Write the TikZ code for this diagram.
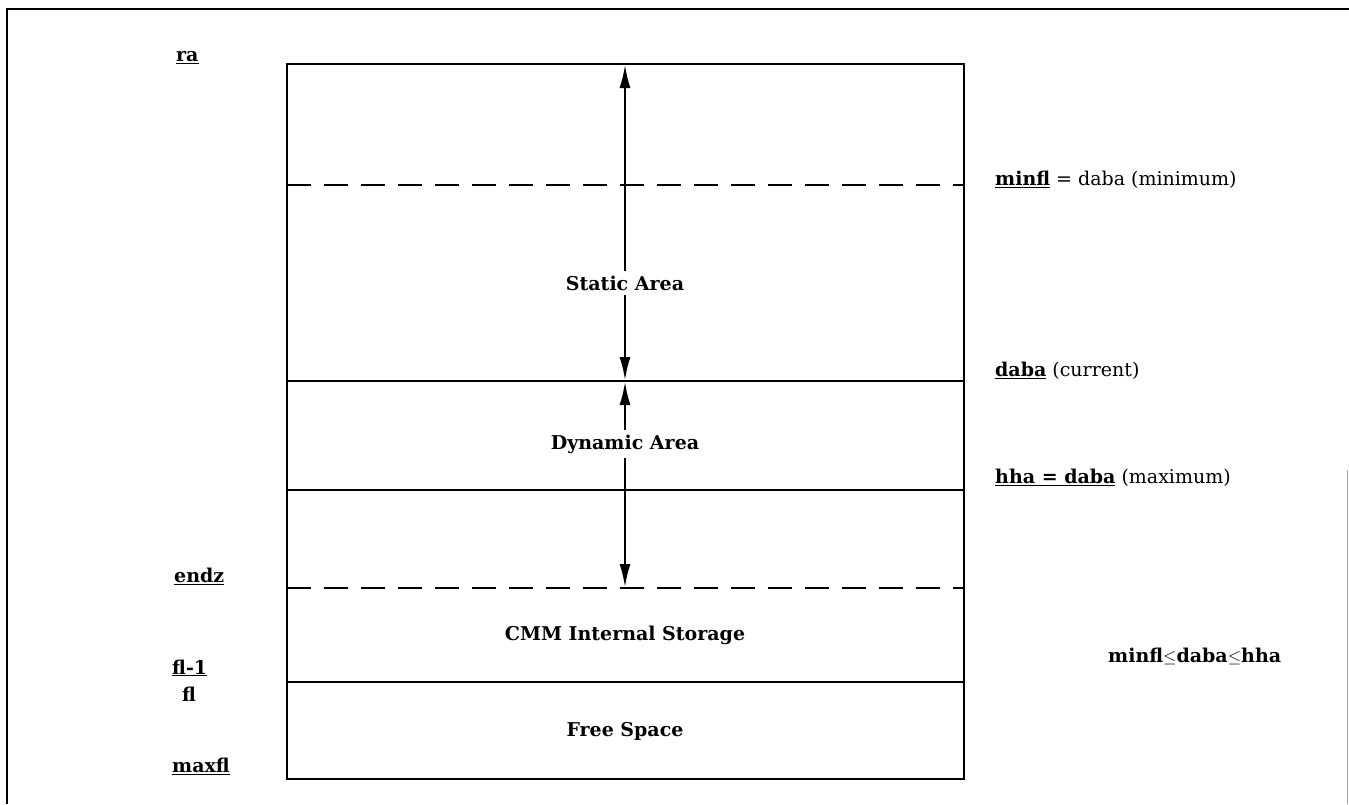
\documentclass[tikz,border=0pt]{standalone}
\usepackage{fontspec}
\setmainfont{DejaVu Serif}
\usetikzlibrary{arrows.meta}
\newcommand{\ulbf}[1]{\underline{\textbf{#1}}}
\tikzset{
  box/.style={line width=2.6pt},
  divider/.style={line width=2pt},
  dashdiv/.style={line width=2pt, dash pattern=on 24pt off 13pt},
  span/.style={line width=2.8pt, -{Latex[length=24pt,width=11pt]}},
  area/.style={font=\fontsize{19}{22}\selectfont\bfseries, inner sep=4pt},
  lab/.style={font=\fontsize{19}{22}\selectfont, anchor=west, inner sep=0pt},
  frame/.style={line width=2.2pt}
}
\begin{document}
\begin{tikzpicture}[x=1pt,y=-1pt]
\useasboundingbox (0,0) rectangle (1349,804);
% outer frame
\draw[frame] (7,804) -- (7,9) -- (1349,9);
\draw[line width=0.8pt, black!35] (1347,470) -- (1347,804);
% memory block
\coordinate (tl) at (287,64);
\coordinate (br) at (964,779);
\draw[box] (tl) rectangle (br);
% boundaries inside the block
\draw[dashdiv] (287,185) -- (964,185);
\draw[divider] (287,381) -- (964,381);
\draw[divider] (287,490) -- (964,490);
\draw[dashdiv] (287,588) -- (964,588);
\draw[divider] (287,682) -- (964,682);
% region names
\node[area] (static) at (625,283) {Static Area};
\node[area] (dynamic) at (625,444) {Dynamic Area};
\node[area] (cmm) at (625,635) {CMM Internal Storage};
\node[area] (free) at (625,731) {Free Space};
% extent arrows
\coordinate (top) at (625,64);
\coordinate (cur) at (625,381);
\coordinate (endz) at (625,588);
\draw[span] (static.north) -- (top);
\draw[span] (static.south) -- (cur);
\draw[span] (dynamic.north) -- (cur);
\draw[span] (dynamic.south) -- (endz);
% address labels, left side
\node[lab] (ra) at (176,58) {\ulbf{ra}};
\node[lab] (endzl) at (174,576) {\ulbf{endz}};
\node[lab] (flm) at (172,668) {\ulbf{fl-1}};
\node[lab] (fl) at (182,694) {\textbf{fl}};
\node[lab] (maxfl) at (172,766) {\ulbf{maxfl}};
% address labels, right side
\node[lab] (minfl) at (995,180) {\ulbf{minfl} = daba (minimum)};
\node[lab] (daba) at (995,371) {\ulbf{daba} (current)};
\node[lab] (hha) at (995,478) {\underline{\textbf{hha = daba}} (maximum)};
\node[lab] (rel) at (1108,656) {\textbf{minfl$\leq$daba$\leq$hha}};
\end{tikzpicture}
\end{document}
